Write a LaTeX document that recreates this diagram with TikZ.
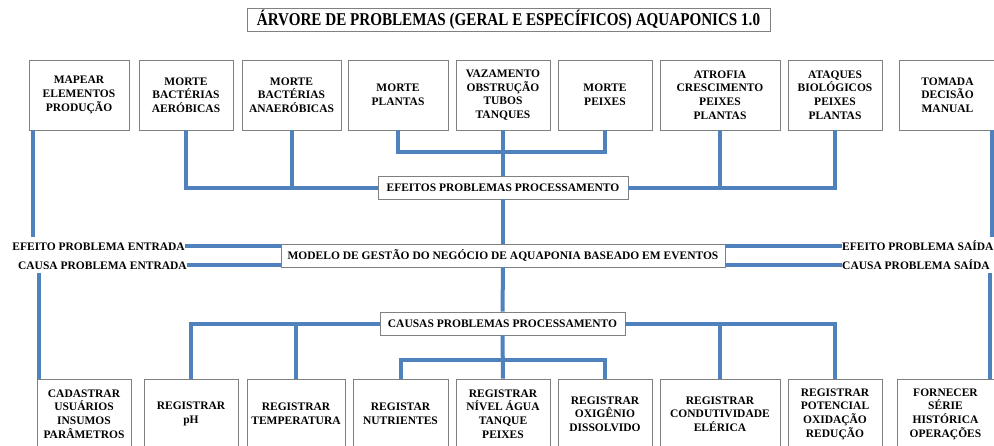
\documentclass[tikz,border=0pt]{standalone}
\usepackage{fontspec}
\setmainfont{Liberation Serif}
\definecolor{linha}{RGB}{79,129,189}
\definecolor{borda}{RGB}{128,128,128}

\begin{document}
\begin{tikzpicture}[x=1pt,y=-1pt,
    caixa/.style={draw=borda,line width=.8pt,fill=white,align=center,minimum height=70pt,inner sep=1pt,
      font=\fontsize{11.5}{13.7}\selectfont\bfseries},
    faixa/.style={draw=borda,line width=.8pt,fill=white,minimum height=23pt,inner sep=0pt,
      font=\fontsize{11.5}{13.7}\selectfont\bfseries},
    rotulo/.style={inner sep=0pt,text height=8pt,text depth=0pt,
      font=\fontsize{11.5}{13.7}\selectfont\bfseries},
    liga/.style={draw=linha,line width=4pt}]
      \useasboundingbox (0,0) rectangle (994,445);
      \fill[white] (0,0) rectangle (994,445);
      \clip (0,0) rectangle (994,445);

      \node[faixa,minimum width=523pt] (titulo) at (508.5,19.5)
        {\scalebox{0.84}[1]{\fontsize{18}{20}\selectfont ÁRVORE DE PROBLEMAS (GERAL E ESPECÍFICOS) AQUAPONICS 1.0}};

      % efeitos
      \node[caixa,minimum width=100pt] (mapear) at (79,95){MAPEAR\\ELEMENTOS\\PRODUÇÃO};
      \node[caixa,minimum width=94pt] (aerob) at (186,95){MORTE\\BACTÉRIAS\\AERÓBICAS};
      \node[caixa,minimum width=99pt] (anaerob) at (291.5,95){MORTE\\BACTÉRIAS\\ANAERÓBICAS};
      \node[caixa,minimum width=100pt] (plantas) at (398,95){MORTE\\PLANTAS};
      \node[caixa,minimum width=94pt] (vazamento) at (503,95){VAZAMENTO\\OBSTRUÇÃO\\TUBOS\\TANQUES};
      \node[caixa,minimum width=94pt] (peixes) at (605,95){MORTE\\PEIXES};
      \node[caixa,minimum width=120pt] (atrofia) at (720,95){ATROFIA\\CRESCIMENTO\\PEIXES\\PLANTAS};
      \node[caixa,minimum width=94pt] (ataques) at (835,95){ATAQUES\\BIOLÓGICOS\\PEIXES\\PLANTAS};
      \node[caixa,minimum width=97pt] (tomada) at (947.5,95){TOMADA\\DECISÃO\\MANUAL};

      \node[faixa,minimum width=250pt] (efeitos) at (503,187.5){EFEITOS PROBLEMAS PROCESSAMENTO};
      \node[faixa,minimum width=444pt] (modelo) at (503,255.5){MODELO DE GESTÃO DO NEGÓCIO DE AQUAPONIA BASEADO EM EVENTOS};
      \node[faixa,minimum width=245pt] (causas) at (502.5,323.5){CAUSAS PROBLEMAS PROCESSAMENTO};

      \node[rotulo,anchor=east] (efE) at (185,246){EFEITO PROBLEMA ENTRADA};
      \node[rotulo,anchor=east] (causaE) at (187,265){CAUSA PROBLEMA ENTRADA};
      \node[rotulo,anchor=west] (efS) at (842,246){EFEITO PROBLEMA SAÍDA};
      \node[rotulo,anchor=west] (causaS) at (842,265){CAUSA PROBLEMA SAÍDA};

      % causas
      \node[caixa,minimum width=94pt] (cadastrar) at (84,414){CADASTRAR\\USUÁRIOS\\INSUMOS\\PARÂMETROS};
      \node[caixa,minimum width=94pt] (ph) at (191,414){REGISTRAR\\pH};
      \node[caixa,minimum width=98pt] (temp) at (296,414){REGISTRAR\\TEMPERATURA};
      \node[caixa,minimum width=95pt] (nutri) at (400.5,414){REGISTAR\\NUTRIENTES};
      \node[caixa,minimum width=94pt] (nivel) at (503,414){REGISTRAR\\NÍVEL ÁGUA\\TANQUE\\PEIXES};
      \node[caixa,minimum width=94pt] (oxig) at (605,414){REGISTRAR\\OXIGÊNIO\\DISSOLVIDO};
      \node[caixa,minimum width=120pt] (condut) at (720,414){REGISTRAR\\CONDUTIVIDADE\\ELÉRICA};
      \node[caixa,minimum width=94pt] (potencial) at (835,414){REGISTRAR\\POTENCIAL\\OXIDAÇÃO\\REDUÇÃO};
      \node[caixa,minimum width=97pt] (fornecer) at (945.5,414){FORNECER\\SÉRIE\\HISTÓRICA\\OPERAÇÕES};

      \coordinate (ramoA) at (503,152);
      \coordinate (ramoB) at (503,360);
      \coordinate (fimE) at (33,237);
      \coordinate (iniE) at (38.5,273);
      \coordinate (fimS) at (992,237);
      \coordinate (iniS) at (990,273);

      \draw[liga] (aerob.south) |- (efeitos.west);
      \draw[liga] (anaerob.south) -- (anaerob.south |- efeitos.west);
      \draw[liga] (plantas.south) -- (plantas.south |- ramoA) -| (peixes.south);
      \draw[liga] (vazamento.south) -- (efeitos.north);
      \draw[liga] (atrofia.south) -- (atrofia.south |- efeitos.east);
      \draw[liga] (ataques.south) |- (efeitos.east);
      \draw[liga] (efeitos.south) -- (modelo.north);
      \draw[liga] (modelo.south) -- (causas.north);

      \draw[liga] (mapear.south -| fimE) -- (fimE);
      \draw[liga] (iniE) -- (iniE |- cadastrar.north);
      \draw[liga] (tomada.south -| fimS) -- (fimS);
      \draw[liga] (iniS) -- (iniS |- fornecer.north);
      \draw[liga] (efE.east) -- (efE.east -| modelo.west);
      \draw[liga] (causaE.east) -- (causaE.east -| modelo.west);
      \draw[liga] (efS.west -| modelo.east) -- (efS.west);
      \draw[liga] (causaS.west -| modelo.east) -- (causaS.west);

      \draw[liga] (ph.north) |- (causas.west);
      \draw[liga] (temp.north) -- (temp.north |- causas.west);
      \draw[liga] (causas.south) -- (nivel.north);
      \draw[liga] (nutri.north) -- (nutri.north |- ramoB) -| (oxig.north);
      \draw[liga] (condut.north) -- (condut.north |- causas.east);
      \draw[liga] (potencial.north) |- (causas.east);

    \end{tikzpicture}
\end{document}
